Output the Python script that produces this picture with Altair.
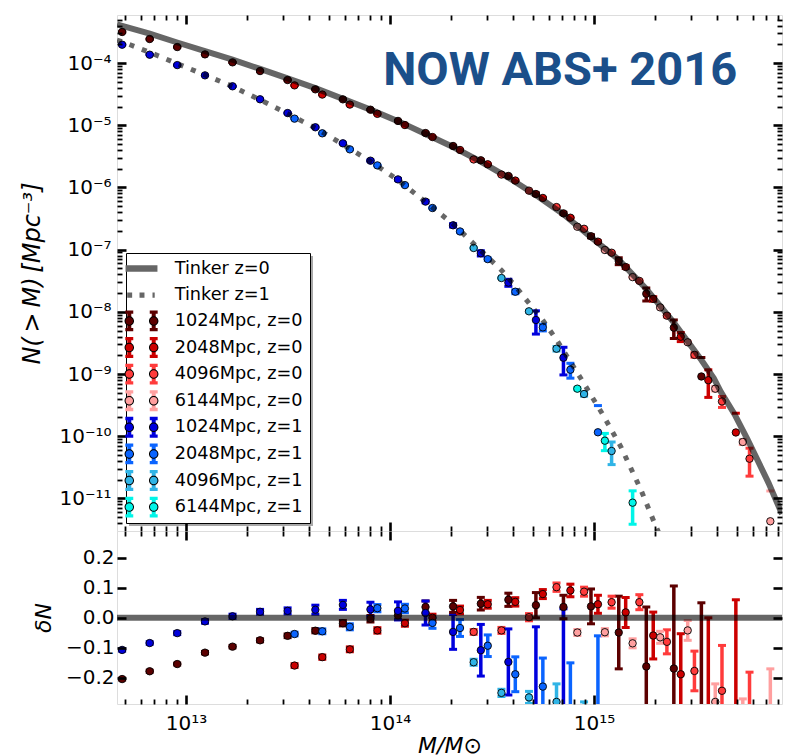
import altair as alt
import numpy as np
import pandas as pd

# ---------------- data ----------------
# Tinker z=0 curve (log10 M, log10 N)
tk0_logm = [12.662, 12.687, 12.822, 12.957, 13.093, 13.228, 13.363, 13.498, 13.634, 13.769,
            13.904, 14.039, 14.174, 14.309, 14.445, 14.580, 14.715, 14.850, 14.985, 15.121,
            15.256, 15.391, 15.526, 15.587, 15.622, 15.689, 15.752, 15.855, 15.921]
tk0_logn = [-3.378, -3.402, -3.529, -3.670, -3.807, -3.945, -4.095, -4.246, -4.404, -4.576,
            -4.749, -4.934, -5.141, -5.350, -5.584, -5.841, -6.124, -6.432, -6.801, -7.161,
            -7.632, -8.175, -8.775, -9.070, -9.290, -9.650, -10.050, -10.750, -11.250]
# Tinker z=1 curve
tk1_logm = [12.662, 12.687, 12.822, 12.957, 13.093, 13.228, 13.363, 13.498, 13.634, 13.769,
            13.904, 14.039, 14.174, 14.309, 14.410, 14.546, 14.614, 14.749, 14.816, 14.937,
            15.044, 15.132, 15.230, 15.294, 15.318]
tk1_logn = [-3.630, -3.656, -3.828, -4.010, -4.193, -4.376, -4.592, -4.814, -5.045, -5.309,
            -5.582, -5.881, -6.235, -6.588, -6.905, -7.331, -7.587, -8.137, -8.450, -9.080,
            -9.659, -10.174, -10.865, -11.379, -11.560]

series_names = ["1024Mpc, z=0", "2048Mpc, z=0", "4096Mpc, z=0", "6144Mpc, z=0",
                "1024Mpc, z=1", "2048Mpc, z=1", "4096Mpc, z=1", "6144Mpc, z=1"]
series_colors = ["#5c0000", "#cc0000", "#ff3b3b", "#ff9f9f",
                 "#0000dd", "#0a64ff", "#30b4e6", "#00f5e8"]
tinker_names = ["Tinker z=0", "Tinker z=1"]
legend_labels = tinker_names + series_names

# 1024Mpc, z=0
logm_1024_z0 = [12.687, 12.822, 12.957, 13.093, 13.228, 13.363, 13.498, 13.634, 13.769, 13.904, 14.039,
                14.174, 14.309, 14.445, 14.580, 14.715, 14.850, 14.985, 15.121, 15.256, 15.391, 15.526]
logn_1024_z0 = [-3.501, -3.614, -3.743, -3.861, -3.989, -4.129, -4.273, -4.423, -4.584, -4.750, -4.931,
                -5.126, -5.334, -5.564, -5.816, -6.106, -6.417, -6.785, -7.183, -7.709, -8.255, -9.040]
dlt_1024_z0 = [-0.204, -0.178, -0.154, -0.116, -0.096, -0.075, -0.060, -0.043, -0.018, -0.003, 0.008,
               0.036, 0.038, 0.047, 0.060, 0.042, 0.036, 0.038, -0.049, -0.162, -0.169, -0.480]
err_1024_z0 = [0.003, 0.003, 0.003, 0.004, 0.004, 0.005, 0.006, 0.007, 0.009, 0.011, 0.014,
               0.020, 0.020, 0.021, 0.022, 0.042, 0.039, 0.058, 0.121, 0.198, 0.275, 0.530]
# 2048Mpc, z=0
logm_2048_z0 = [13.532, 13.668, 13.803, 13.938, 14.073, 14.208, 14.343, 14.479, 14.614, 14.749, 14.884,
                15.019, 15.155, 15.290, 15.425, 15.560, 15.695]
logn_2048_z0 = [-4.359, -4.507, -4.668, -4.817, -4.997, -5.190, -5.398, -5.628, -5.890, -6.169, -6.487,
                -6.872, -7.280, -7.792, -8.400, -9.100, -9.940]
dlt_2048_z0 = [-0.159, -0.131, -0.105, -0.042, -0.018, 0.000, 0.026, 0.045, 0.053, 0.079, 0.091,
               0.045, 0.018, -0.059, -0.188, -0.320, -0.480]
err_2048_z0 = [0.006, 0.007, 0.008, 0.009, 0.010, 0.012, 0.013, 0.013, 0.014, 0.015, 0.021,
               0.030, 0.050, 0.078, 0.135, 0.320, 0.540]
# 4096Mpc, z=0
logm_4096_z0 = [14.410, 14.546, 14.681, 14.816, 14.951, 15.086, 15.222, 15.357, 15.492, 15.627, 15.762]
logn_4096_z0 = [-5.550, -5.793, -6.052, -6.316, -6.665, -7.050, -7.503, -8.062, -8.693, -9.441, -10.362]
dlt_4096_z0 = [-0.047, -0.042, 0.002, 0.102, 0.087, 0.052, 0.052, -0.080, -0.177, -0.243, -0.445]
err_4096_z0 = [0.008, 0.010, 0.012, 0.014, 0.015, 0.020, 0.025, 0.040, 0.066, 0.151, 0.264]
# 6144Mpc, z=0
logm_6144_z0 = [14.918, 15.053, 15.189, 15.324, 15.459, 15.594, 15.729, 15.864]
logn_6144_z0 = [-6.632, -7.006, -7.442, -7.929, -8.490, -9.236, -10.093, -11.368]
dlt_6144_z0 = [-0.049, -0.048, -0.085, -0.065, -0.042, -0.280, -0.330, -0.730]
err_6144_z0 = [0.010, 0.012, 0.015, 0.020, 0.033, 0.060, 0.060, 0.560]
# 1024Mpc, z=1
logm_1024_z1 = [12.687, 12.822, 12.957, 13.093, 13.228, 13.363, 13.498, 13.634, 13.769, 13.904, 14.039,
                14.174, 14.309, 14.445, 14.580, 14.715, 14.850]
logn_1024_z1 = [-3.705, -3.866, -4.033, -4.198, -4.374, -4.583, -4.804, -5.033, -5.291, -5.570, -5.871,
                -6.228, -6.609, -7.058, -7.530, -8.132, -8.738]
dlt_1024_z1 = [-0.107, -0.084, -0.051, -0.012, 0.005, 0.020, 0.023, 0.027, 0.043, 0.028, 0.023,
               0.016, -0.047, -0.108, -0.147, -0.310, -0.300]
err_1024_z1 = [0.004, 0.004, 0.005, 0.006, 0.007, 0.008, 0.010, 0.015, 0.015, 0.024, 0.030,
               0.040, 0.058, 0.086, 0.110, 0.280, 0.330]
# 2048Mpc, z=1
logm_2048_z1 = [13.532, 13.668, 13.803, 13.938, 14.073, 14.208, 14.343, 14.479, 14.614, 14.749, 14.884, 15.019]
logn_2048_z1 = [-4.894, -5.130, -5.388, -5.646, -5.963, -6.331, -6.708, -7.153, -7.677, -8.250, -8.931, -9.937]
dlt_2048_z1 = [-0.054, -0.045, -0.030, 0.032, 0.031, -0.017, -0.034, -0.093, -0.188, -0.229, -0.330, -0.650]
err_2048_z1 = [0.006, 0.008, 0.010, 0.012, 0.014, 0.018, 0.028, 0.036, 0.058, 0.095, 0.180, 0.590]
# 4096Mpc, z=1
logm_4096_z1 = [14.410, 14.546, 14.681, 14.816, 14.951, 15.086]
logn_4096_z1 = [-6.974, -7.457, -7.992, -8.593, -9.322, -10.238]
dlt_4096_z1 = [-0.148, -0.250, -0.265, -0.280, -0.330, -0.545]
err_4096_z1 = [0.010, 0.012, 0.020, 0.060, 0.050, 0.180]
# 6144Mpc, z=1
logm_6144_z1 = [14.918, 15.053, 15.189]
logn_6144_z1 = [-9.236, -10.072, -11.069]
dlt_6144_z1 = [-0.447, -0.579, -0.700]
err_6144_z1 = [0.020, 0.130, 0.165]

# ticks and labels
xmaj_ticks = [1e13, 1e14, 1e15]
xmaj_labels = ["10¹³", "10¹⁴", "10¹⁵"]
xmin_ticks = [k * 10.0 ** e for e in (12, 13, 14, 15) for k in range(2, 10)
              if 4.6e12 < k * 10.0 ** e < 8.3e15]
ymaj_ticks = [1e-11, 1e-10, 1e-9, 1e-8, 1e-7, 1e-6, 1e-5, 1e-4]
ymaj_labels = ["10⁻¹¹", "10⁻¹⁰", "10⁻⁹", "10⁻⁸", "10⁻⁷", "10⁻⁶", "10⁻⁵", "10⁻⁴"]
ymin_ticks = [k * 10.0 ** e for e in range(-12, -3) for k in range(2, 10)
              if 3.0e-12 < k * 10.0 ** e < 5.9e-4]
dmaj_ticks = [-0.2, -0.1, 0.0, 0.1, 0.2]

title_text = ["NOW ABS+ 2016"]
title_M = [6.82e14]
title_N = [4.43e-5]

# ---------------- tables ----------------
all_series = [
    (logm_1024_z0, logn_1024_z0, dlt_1024_z0, err_1024_z0),
    (logm_2048_z0, logn_2048_z0, dlt_2048_z0, err_2048_z0),
    (logm_4096_z0, logn_4096_z0, dlt_4096_z0, err_4096_z0),
    (logm_6144_z0, logn_6144_z0, dlt_6144_z0, err_6144_z0),
    (logm_1024_z1, logn_1024_z1, dlt_1024_z1, err_1024_z1),
    (logm_2048_z1, logn_2048_z1, dlt_2048_z1, err_2048_z1),
    (logm_4096_z1, logn_4096_z1, dlt_4096_z1, err_4096_z1),
    (logm_6144_z1, logn_6144_z1, dlt_6144_z1, err_6144_z1),
]
rows = []
for name, (lm, ln, dl, er) in zip(series_names, all_series):
    for a, b, c, e in zip(lm, ln, dl, er):
        n = 10.0 ** b
        rel = e / (1.0 + c)
        rows.append(dict(series=name, M=10.0 ** a, N=n, N_hi=n * (1 + rel),
                         N_lo=(n * (1 - rel)) if rel < 1 else np.nan,
                         d=c, d_lo=c - e, d_hi=c + e))
pts = pd.DataFrame(rows)
bars = pts[pts["N_lo"].notna()].reset_index(drop=True)

tk0 = pd.DataFrame({"M": [10.0 ** v for v in tk0_logm], "N": [10.0 ** v for v in tk0_logn]})
tk1 = pd.DataFrame({"M": [10.0 ** v for v in tk1_logm], "N": [10.0 ** v for v in tk1_logn]})
ttl = pd.DataFrame({"M": title_M, "N": title_N, "t": title_text})
zero_df = pd.DataFrame({"z": [0.0]})
leg_all = pd.DataFrame({"label": legend_labels})
leg_tk = pd.DataFrame({"label": tinker_names})
leg_sr = pd.DataFrame({"label": series_names})

# ---------------- scales / axes ----------------
FONT = "DejaVu Sans"
xscale = alt.Scale(type="log", domain=[4.59e12, 8.34e15], nice=False)
ytop = alt.Scale(type="log", domain=[2.99e-12, 5.92e-4], nice=False)
ybot = alt.Scale(domain=[-0.287, 0.289], nice=False, zero=False)
cscale = alt.Scale(domain=series_names, range=series_colors)
color = alt.Color("series:N", scale=cscale, legend=None)


def lab_expr(labels, first_exp):
    arr = "[" + ",".join("'" + s + "'" for s in labels) + "]"
    return arr + "[round(log(datum.value)/LN10)-(" + str(first_exp) + ")]"


def ax(orient, values, major, **kw):
    size = 9 if major else 5
    base = dict(orient=orient, values=values, tickSize=size, tickWidth=2.6 if major else 1.8,
                tickColor="black", offset=-size, domain=False, grid=False, zindex=2,
                labels=False, title=None)
    base.update(kw)
    return alt.Axis(**base)


lab_kw = dict(labels=True, labelFont=FONT, labelFontSize=20, labelColor="black")
title_kw = dict(titleFont=FONT, titleFontStyle="italic",
                titleFontWeight="normal", titleColor="black")

# ---------------- top panel ----------------
err_top = alt.Chart(bars).mark_rule(strokeWidth=3.5, clip=True).encode(
    x=alt.X("M:Q", scale=xscale, axis=ax("bottom", xmaj_ticks, True)),
    y=alt.Y("N_lo:Q", scale=ytop,
            axis=ax("left", ymaj_ticks, True, labelExpr=lab_expr(ymaj_labels, -11),
                    labelPadding=6, title="N(\u2009>\u2009M)\u2009[Mpc⁻³]", titlePadding=14,
                    titleFontSize=24, **lab_kw, **title_kw)),
    y2="N_hi:Q", color=color)
caphi_top = alt.Chart(pts).mark_tick(orient="horizontal", size=8, thickness=3, opacity=1, clip=True).encode(
    x=alt.X("M:Q", scale=xscale, axis=ax("bottom", xmin_ticks, False)),
    y=alt.Y("N_hi:Q", scale=ytop, axis=ax("left", ymin_ticks, False)), color=color)
caplo_top = alt.Chart(bars).mark_tick(orient="horizontal", size=8, thickness=3, opacity=1, clip=True).encode(
    x=alt.X("M:Q", scale=xscale, axis=ax("top", xmaj_ticks, True)),
    y=alt.Y("N_lo:Q", scale=ytop, axis=ax("right", ymaj_ticks, True)), color=color)
pts_top = alt.Chart(pts).mark_circle(size=55, stroke="black", strokeWidth=0.9, opacity=1, clip=True).encode(
    x=alt.X("M:Q", scale=xscale, axis=ax("top", xmin_ticks, False)),
    y=alt.Y("N:Q", scale=ytop, axis=ax("right", ymin_ticks, False)), color=color)
line0 = alt.Chart(tk0).mark_line(color="black", opacity=0.6, strokeWidth=6, clip=True).encode(
    x=alt.X("M:Q", scale=xscale, axis=None), y=alt.Y("N:Q", scale=ytop, axis=None))
line1 = alt.Chart(tk1).mark_line(color="black", opacity=0.6, strokeWidth=5, strokeDash=[5, 8.25],
                                 strokeCap="butt", clip=True).encode(
    x=alt.X("M:Q", scale=xscale, axis=None), y=alt.Y("N:Q", scale=ytop, axis=None))
title_layer = alt.Chart(ttl).mark_text(font="Roboto", fontWeight="bold", fontSize=47,
                                       color="#1b4f8a", align="center", baseline="alphabetic").encode(
    x=alt.X("M:Q", scale=xscale, axis=None), y=alt.Y("N:Q", scale=ytop, axis=None), text="t:N")


# ---- legend: built from stacked Vega legends with filled symbol paths ----
def rect(x, y, w, h):
    return "M%.3f,%.3fh%.3fv%.3fh%.3fZ" % (x, y, w, h, -w)


def disc(cx, r):
    return "M%.3f,0a%.3f,%.3f 0 1,0 %.3f,0a%.3f,%.3f 0 1,0 %.3f,0Z" % (cx - r, r, r, 2 * r, r, r, -2 * r)


ext = "M-1.82,-0.955M-1.82,0.955"
box_mid = ext + "M14.9,0"
solid_path = ext + rect(-1.45, -0.3, 2.9, 0.6)
dot_path = ext + rect(-1.3, -0.23, 0.45, 0.46) + rect(-0.18, -0.23, 0.45, 0.46) + rect(1.0, -0.23, 0.2, 0.46)
bar_path = ext + "".join(rect(cx - 0.18, -0.95, 0.36, 1.9) + rect(cx - 0.36, -0.95, 0.72, 0.3)
                         + rect(cx - 0.36, 0.65, 0.72, 0.3) for cx in (-1.11, 1.11))
ring_path = ext + disc(-1.11, 0.43) + disc(1.11, 0.43)
circ_path = ext + disc(-1.11, 0.34) + disc(1.11, 0.34)
box_paths = [box_mid] * 10

common = dict(title=None, orient="none", direction="vertical", labelFont=FONT,
              labelFontSize=17.7, labelLimit=400, rowPadding=4.6, padding=4.5,
              symbolOpacity=1, symbolOffset=0, labelOffset=22.2, symbolSize=484,
              symbolStrokeWidth=0, symbolStrokeColor="transparent")
hidden = dict(labelExpr="''", labelColor="transparent")
LX, LY = 9, 238.0
PITCH = 26.2
SER_Y = LY + 2 * PITCH

L_shadow = alt.Chart(leg_all).mark_point(opacity=0, filled=True, fill="#a8a8a8").encode(
    shape=alt.Shape("label:N", scale=alt.Scale(domain=legend_labels, range=box_paths),
                    legend=alt.Legend(legendX=LX + 3, legendY=LY + 3, fillColor="#a8a8a8", zindex=1,
                                      **hidden, **common)))
L_box = alt.Chart(leg_all).mark_point(opacity=0, filled=True, fill="white").encode(
    shape=alt.Shape("label:N", scale=alt.Scale(domain=legend_labels, range=box_paths),
                    legend=alt.Legend(legendX=LX, legendY=LY, fillColor="white", strokeColor="black",
                                      zindex=2, **hidden, **common)))
L_tk = alt.Chart(leg_tk).mark_point(opacity=0, filled=True, fill="#666666").encode(
    shape=alt.Shape("label:N", scale=alt.Scale(domain=tinker_names, range=[solid_path, dot_path]),
                    legend=alt.Legend(legendX=LX, legendY=LY, labelColor="black", zindex=3, **common)))
L_bar = alt.Chart(leg_sr).mark_point(opacity=0, shape=bar_path, filled=True).encode(
    fill=alt.Fill("label:N", scale=alt.Scale(domain=series_names, range=series_colors),
                  legend=alt.Legend(legendX=LX, legendY=SER_Y, labelColor="black", zindex=4, **common)))
L_ring = alt.Chart(leg_sr).mark_point(opacity=0, shape=ring_path, filled=True).encode(
    fill=alt.Fill("label:N", scale=alt.Scale(domain=series_names, range=["black"] * 8),
                  legend=alt.Legend(legendX=LX, legendY=SER_Y, zindex=5, **hidden, **common)))
L_circ = alt.Chart(leg_sr).mark_point(opacity=0, shape=circ_path, filled=True).encode(
    fill=alt.Fill("label:N", scale=alt.Scale(domain=series_names, range=series_colors),
                  legend=alt.Legend(legendX=LX, legendY=SER_Y, zindex=6, **hidden, **common)))

top = alt.layer(err_top, caphi_top, caplo_top, pts_top, line0, line1, title_layer,
                L_shadow, L_box, L_tk, L_bar, L_ring, L_circ).resolve_axis(
    x="independent", y="independent").resolve_scale(shape="independent", fill="independent").resolve_legend(
    fill="independent", shape="independent").properties(width=665, height=516)

# ---------------- bottom panel ----------------
err_bot = alt.Chart(pts).mark_rule(strokeWidth=3.5, clip=True).encode(
    x=alt.X("M:Q", scale=xscale,
            axis=ax("bottom", xmaj_ticks, True, labelExpr=lab_expr(xmaj_labels, 13), labelPadding=9,
                    title="M/M⊙", titlePadding=2, titleFontSize=22, **lab_kw, **title_kw)),
    y=alt.Y("d_lo:Q", scale=ybot,
            axis=ax("left", dmaj_ticks, True, format=".1f", labelPadding=3, title="δN",
                    titlePadding=10, titleFontSize=22, **lab_kw, **title_kw)),
    y2="d_hi:Q", color=color)
caphi_bot = alt.Chart(pts).mark_tick(orient="horizontal", size=8, thickness=3, opacity=1, clip=True).encode(
    x=alt.X("M:Q", scale=xscale, axis=ax("bottom", xmin_ticks, False)),
    y=alt.Y("d_hi:Q", scale=ybot, axis=ax("right", dmaj_ticks, True)), color=color)
caplo_bot = alt.Chart(pts).mark_tick(orient="horizontal", size=8, thickness=3, opacity=1, clip=True).encode(
    x=alt.X("M:Q", scale=xscale, axis=ax("top", xmaj_ticks, True)),
    y=alt.Y("d_lo:Q", scale=ybot, axis=None), color=color)
pts_bot = alt.Chart(pts).mark_circle(size=55, stroke="black", strokeWidth=0.9, opacity=1, clip=True).encode(
    x=alt.X("M:Q", scale=xscale, axis=ax("top", xmin_ticks, False)),
    y=alt.Y("d:Q", scale=ybot, axis=None), color=color)
zero = alt.Chart(zero_df).mark_rule(color="black", opacity=0.6, strokeWidth=6).encode(
    y=alt.Y("z:Q", scale=ybot, axis=None))

bottom = alt.layer(err_bot, caphi_bot, caplo_bot, pts_bot, zero).resolve_axis(
    x="independent", y="independent").properties(width=665, height=173)

chart = alt.vconcat(top, bottom, spacing=0, bounds="flush").properties(
    padding={"left": 20, "top": 13, "right": 2, "bottom": 2},
    background="white",
).configure_view(stroke="black", strokeWidth=2.5).configure(font=FONT)

chart.save("out.html", embed_options={"renderer": "svg", "actions": False})
